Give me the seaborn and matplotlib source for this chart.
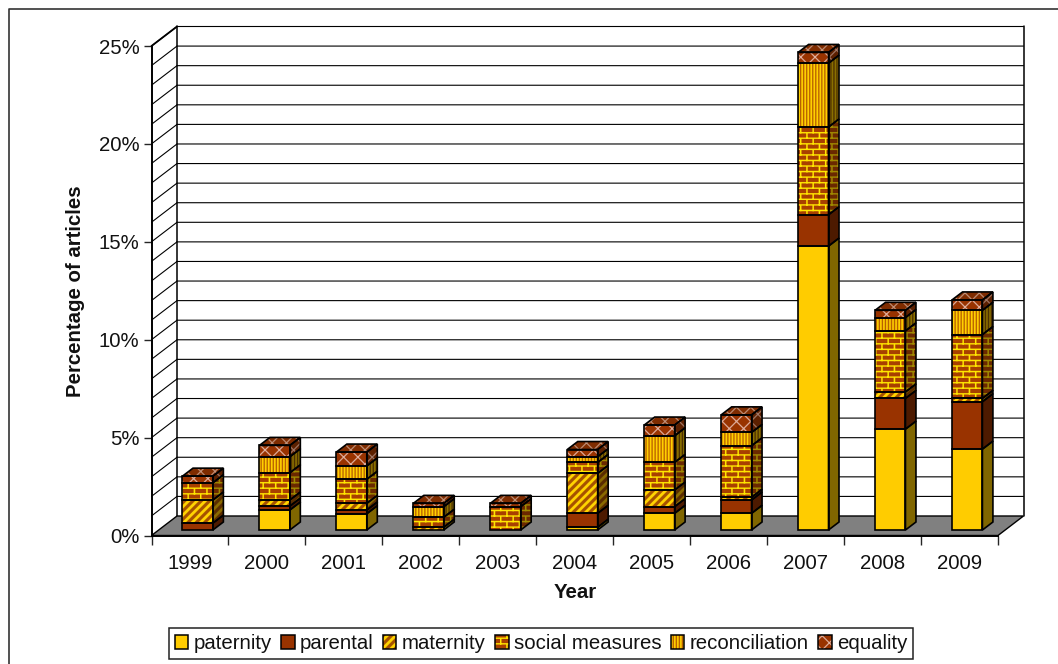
import numpy as np
import pandas as pd
import seaborn as sns
import matplotlib
matplotlib.use("Agg")
import matplotlib.pyplot as plt
import matplotlib.hatch as mhatch
from matplotlib.path import Path
from matplotlib.patches import Patch, Polygon
from matplotlib.lines import Line2D
from matplotlib.legend_handler import HandlerTuple

# ---- data: segment heights, percentage of articles ----
years = ["1999", "2000", "2001", "2002", "2003", "2004", "2005", "2006", "2007", "2008", "2009"]
paternity = [0, 1.02, 0.83, 0, 0, 0.14, 0.85, 0.85, 14.50, 5.15, 4.13]
parental = [0.35, 0.20, 0.19, 0, 0, 0.71, 0.34, 0.68, 1.60, 1.57, 2.42]
maternity = [1.18, 0.31, 0.34, 0.14, 0, 2.04, 0.85, 0.14, 0, 0.33, 0.17]
social = [0.88, 1.39, 1.23, 0.51, 1.19, 0.56, 1.41, 2.63, 4.48, 3.12, 3.26]
reconciliation = [0, 0.82, 0.68, 0.54, 0, 0.29, 1.36, 0.68, 3.26, 0.68, 1.24]
equality = [0.34, 0.58, 0.71, 0.17, 0.17, 0.37, 0.55, 0.90, 0.55, 0.37, 0.53]
series_names = ["paternity", "parental", "maternity", "social measures", "reconciliation", "equality"]
series_values = [paternity, parental, maternity, social, reconciliation, equality]
y_ticks = [0, 5, 10, 15, 20, 25]
y_labels = ["0%", "5%", "10%", "15%", "20%", "25%"]

W, H = 1058, 664
FONT = "Liberation Sans"
FS = 14.7


# ---- custom Excel-like fill patterns ----
def rect(x0, y0, x1, y1):
    return [(x0, y0), (x1, y0), (x1, y1), (x0, y1)]


def bricks():
    rows, cols, t, v = 18, 8, 0.013, 0.014
    polys = []
    for r in range(rows):
        y = r / rows
        polys.append(rect(0, y, 1, y + t))
        for c in range(cols):
            x = (c + 0.5 * (r % 2)) / cols
            polys.append(rect(x, y, x + v, y + 1 / rows))
    return polys


def stripes():
    n, w = 12, 0.042
    return [[(x, 0), (x + w, 0), (x + w + 1, 1), (x + 1, 1)]
            for x in np.arange(-n, n + 1) / n]


def verticals():
    n, w = 33, 0.012
    return [rect(k / n, 0, k / n + w, 1) for k in range(n)]


def lattice():
    n, w = 7, 0.015
    polys = []
    for x in np.arange(-n, 2 * n + 1) / n:
        polys.append([(x, 0), (x + w, 0), (x + w + 1, 1), (x + 1, 1)])
        polys.append([(x, 0), (x + w, 0), (x + w - 1, 1), (x - 1, 1)])
    return polys


PATTERNS = {"B": bricks(), "S": stripes(), "V": verticals(), "L": lattice()}


class FilledPattern(mhatch.HatchPatternBase):
    def __init__(self, hatch, density):
        self.polys = [p for key, group in PATTERNS.items() if key in hatch for p in group]
        self.num_vertices = sum(len(p) + 1 for p in self.polys)

    def set_vertices_and_codes(self, vertices, codes):
        i = 0
        for p in self.polys:
            n = len(p) + 1
            vertices[i:i + n - 1] = p
            vertices[i + n - 1] = p[0]
            codes[i] = Path.MOVETO
            codes[i + 1:i + n - 1] = Path.LINETO
            codes[i + n - 1] = Path.CLOSEPOLY
            i += n


mhatch._hatch_types.append(FilledPattern)
mhatch._validate_hatch_pattern = lambda h: None

#        front face, front hatch, pattern, side face, side hatch
STYLES = [
    ("#FFCC00", None, None, "#806600", None),
    ("#993300", None, None, "#4D1A00", None),
    ("#FFD400", "#A65200", "S", "#8A6A00", "#5A2C00"),
    ("#A84000", "#FFE600", "B", "#6A2800", "#A08A00"),
    ("#FFD000", "#B86000", "V", "#8A7000", "#4D3000"),
    ("#993300", "#E0B0A0", "L", "#5C2000", "#A07868"),
]
TOP_STYLE = ("#7F2C00", "#C09078", "L")

# ---- layout in pixels ----
LEFT, RIGHT, TOP, BOTTOM = 151.5, 998.0, 46.0, 535.5
WALL_DX, WALL_DY = 25.5, 19.5
BAR_SHIFT_X, BAR_SHIFT_Y = 7.7, 5.5
BAR_DX, BAR_DY = 10.5, 8.0
BAR_W = 0.395


def ax_rect(l, r, t, b):
    return [l / W, 1 - b / H, (r - l) / W, (b - t) / H]


sns.set_style("white")
plt.rcParams["font.family"] = FONT
plt.rcParams["hatch.linewidth"] = 0.1

fig = plt.figure(figsize=(W / 100, H / 100), dpi=100, facecolor="white")

ax = fig.add_axes(ax_rect(LEFT, RIGHT, TOP, BOTTOM))
ax.set_xlim(-0.5, 10.5)
ax.set_ylim(0, 25)
ax.patch.set_visible(False)
px_x = (RIGHT - LEFT) / 11
px_y = (BOTTOM - TOP) / 25
wdx, wdy = WALL_DX / px_x, WALL_DY / px_y

for s in ("top", "right"):
    ax.spines[s].set_visible(False)
for s in ("left", "bottom"):
    ax.spines[s].set_linewidth(1.4)
    ax.spines[s].set_color("black")

ax.set_yticks(y_ticks, y_labels, fontsize=FS, color="#111111")
ax.tick_params(axis="y", direction="out", length=5.8, width=1, pad=3, left=True)
ax.set_xticks(np.arange(-0.5, 11, 1), [""] * 12)
ax.set_xticks(np.arange(11), years, minor=True, fontsize=FS, color="#111111")
ax.tick_params(axis="x", which="major", direction="out", length=6.5, width=1, bottom=True)
ax.tick_params(axis="x", which="minor", length=0, pad=13.5)

# floor
ax.add_patch(Polygon([(-0.5, 0), (10.5, 0), (10.5 + wdx, wdy), (-0.5 + wdx, wdy)],
                     closed=True, facecolor="#808080", edgecolor="black", lw=1.0,
                     clip_on=False, zorder=1))
# gridlines on walls
for v in range(1, 26):
    ax.add_line(Line2D([-0.5 + wdx, 10.5 + wdx], [v + wdy, v + wdy], color="black", lw=0.8,
                       clip_on=False, zorder=0.5, snap=False))
    ax.add_line(Line2D([-0.5, -0.5 + wdx], [v, v + wdy], color="black", lw=0.8,
                       clip_on=False, zorder=0.5, snap=False))
for x_back in (-0.5 + wdx, 10.5 + wdx):
    ax.add_line(Line2D([x_back, x_back], [wdy, 25 + wdy], color="black", lw=1.1,
                       clip_on=False, zorder=0.6))
ax.add_line(Line2D([-0.5, -0.5 + wdx], [25, 25 + wdy], color="black", lw=1.3,
                   clip_on=False, zorder=0.6))

ax.set_xlabel("Year", fontsize=FS, fontweight="bold", labelpad=7, color="#111111")
ax.set_ylabel("Percentage of articles", fontsize=FS, fontweight="bold", labelpad=9.5, color="#111111")

# ---- bars, on an overlay axes shifted into the middle of the floor ----
bax = fig.add_axes(ax_rect(LEFT + BAR_SHIFT_X, RIGHT + BAR_SHIFT_X,
                           TOP - BAR_SHIFT_Y, BOTTOM - BAR_SHIFT_Y), zorder=2)
bax.patch.set_visible(False)

frame = pd.DataFrame({"year": years})
bottoms = np.zeros(len(years))
ddx, ddy = BAR_DX / px_x, BAR_DY / px_y
EDGE = 1.2

for name, vals, style in zip(series_names, series_values, STYLES):
    face, hcol, pat, sface, shatch = style
    frame["value"] = vals
    before = len(bax.patches)
    sns.barplot(data=frame, x="year", y="value", bottom=bottoms, color=face, width=BAR_W,
                saturation=1, errorbar=None, ax=bax, zorder=1)
    for bar in bax.patches[before:]:
        bar.set_facecolor(face)
        bar.set_linewidth(0)
        if pat:
            bar.set_hatch(pat)
            bar.set_edgecolor(hcol)
    for i, h in enumerate(vals):
        if h <= 0:
            continue
        x1 = i + BAR_W / 2
        y0, y1 = bottoms[i], bottoms[i] + h
        pts = [(x1, y0), (x1 + ddx, y0 + ddy), (x1 + ddx, y1 + ddy), (x1, y1)]
        bax.add_patch(Polygon(pts, closed=True, facecolor=sface, lw=0, clip_on=False,
                              hatch=shatch and pat, edgecolor=shatch or "none", zorder=1))
        bax.add_patch(Polygon(pts, closed=True, fill=False, edgecolor="black", lw=EDGE,
                              clip_on=False, zorder=3))
        x0 = i - BAR_W / 2
        bax.add_patch(Polygon([(x0, y0), (x1, y0), (x1, y1), (x0, y1)], closed=True, fill=False,
                              edgecolor="black", lw=EDGE, clip_on=False, zorder=3))
    bottoms = bottoms + np.array(vals)

for i, total in enumerate(bottoms):
    x0, x1 = i - BAR_W / 2, i + BAR_W / 2
    pts = [(x0, total), (x1, total), (x1 + ddx, total + ddy), (x0 + ddx, total + ddy)]
    bax.add_patch(Polygon(pts, closed=True, facecolor=TOP_STYLE[0], hatch=TOP_STYLE[2],
                          edgecolor=TOP_STYLE[1], lw=0, clip_on=False, zorder=2))
    bax.add_patch(Polygon(pts, closed=True, fill=False, edgecolor="black", lw=EDGE,
                          clip_on=False, zorder=3))

bax.set_xlim(-0.5, 10.5)
bax.set_ylim(0, 25)
bax.axis("off")

# ---- legend ----
handles = []
for face, hcol, pat, _, _ in STYLES:
    fill = Patch(facecolor=face, edgecolor=hcol or face, hatch=pat, lw=0)
    outline = Patch(fill=False, edgecolor="black", lw=1.1)
    handles.append((fill, outline))
leg = fig.legend(handles, series_names, handler_map={tuple: HandlerTuple(ndivide=1, pad=0)},
                 loc="center", bbox_to_anchor=(541 / W, 1 - 643.5 / H), ncols=6, fontsize=FS,
                 frameon=True, fancybox=False, framealpha=1, edgecolor="#222222",
                 handlelength=0.65, handleheight=0.65, handletextpad=0.25, columnspacing=0.48,
                 borderpad=0.28, borderaxespad=0, labelcolor="#111111")
leg.get_frame().set_linewidth(1.1)

# ---- outer chart frame ----
fig.add_artist(Line2D([9 / W, 9 / W, 1], [0, 1 - 8.5 / H, 1 - 8.5 / H], color="#333333", lw=1.2))

fig.savefig("out.png", dpi=100)
